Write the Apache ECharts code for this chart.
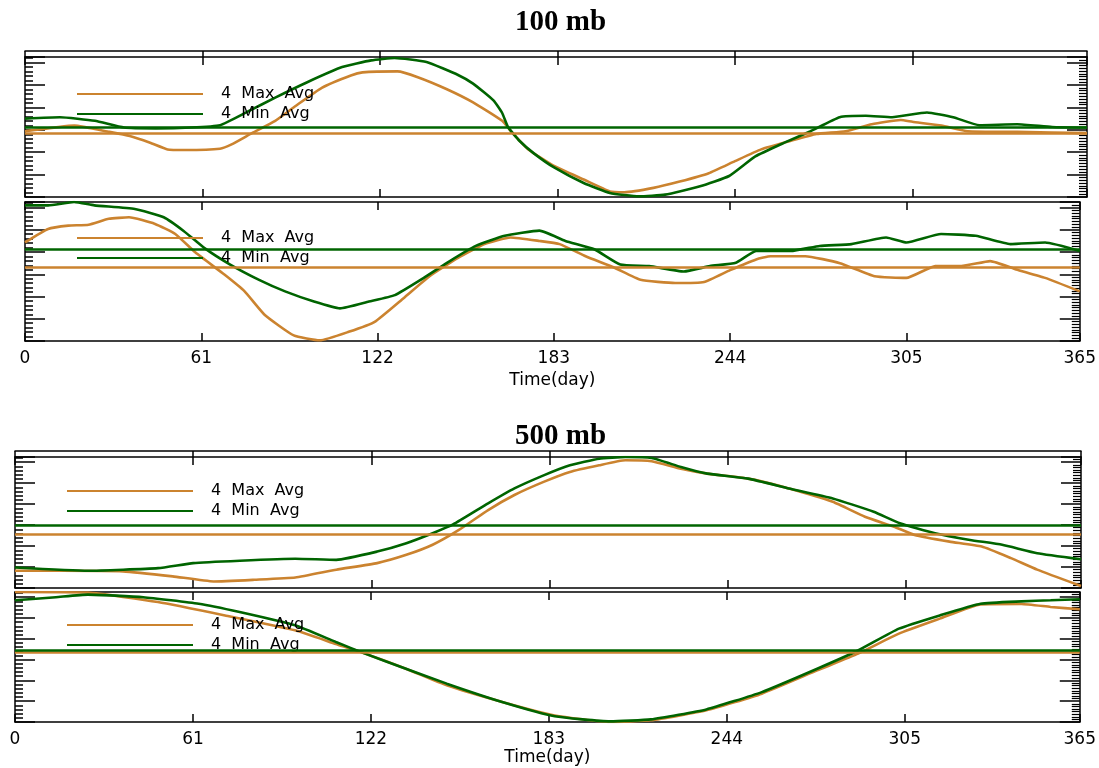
<!DOCTYPE html>
<html>
<head>
<meta charset="utf-8">
<script src="https://cdn.jsdelivr.net/npm/echarts@6/dist/echarts.min.js"></script>
<style>
  body { margin: 0; background: #fff; }
  #chart { width: 1099px; height: 768px; }
</style>
</head>
<body>
<div id="chart"></div>
<script>
// day ticks shared by every panel
const xTicks = [0, 61, 122, 183, 244, 305, 365];
const titles = ['100 mb', '500 mb'];
const seriesNames = ['4 Max Avg', '4 Min Avg'];

// 100 mb, upper panel
const p1MaxDays = [0,17,29,36,43,49,55,67,71,78,86,93,102,112,116,128,135,145,154,164,167,173,182,192,201,206,216,225,235,244,253,263,272,282,291,301,305,315,324,341,365];
const p1MaxVals = [47,51,46.5,43.6,38.8,34,33.6,34.5,37.6,45.6,54.4,65,78,86.8,89,89.7,85.6,77,67.6,54.4,47,34,22,12.5,4,3.4,6.5,11,17,25.6,34,40,45,47,52,55,53.7,51,47,46.5,45.6];
const p1MinDays = [0,12,24,34,45,57,67,76,86,97,109,119,127,138,149,154,161,164,166,170,175,182,192,201,211,220,232,242,251,261,270,280,289,298,310,319,328,341,353,365];
const p1MinVals = [56,57,54.4,49.6,49,49.6,51.3,60.4,71,82,92.8,97.6,99.3,96.4,87,81,69,60,50,40,31,20.9,10,2.9,0.5,1.7,7.7,15,29,38.8,47,57,58,57,60.4,57,51.3,52,50,49.6];

// 100 mb, lower panel
const p2MaxDays = [0,8,15,22,29,36,45,52,59,69,76,83,93,102,112,121,131,140,150,159,168,178,185,194,204,213,225,235,244,253,258,270,282,294,305,315,324,334,343,353,365];
const p2MaxVals = [70.9,80.6,83,83.7,87.9,89,84.2,77,63.6,47.8,35.7,18.7,4,0.5,6.6,13.8,30.8,46.6,60,69.7,74.5,72,69.7,61,52.7,44,41.7,42.5,51,58.7,61,61,56,46.6,45.4,53.9,53.9,57.5,51.5,45.4,35.7];
const p2MinDays = [0,8,17,24,38,48,55,62,71,81,90,100,109,119,128,138,147,156,166,178,187,197,206,216,228,237,246,253,265,275,286,298,305,317,329,341,353,365];
const p2MinVals = [97.6,97.6,100,97.6,95,89,79,67,55,44,35.7,28.4,23.5,28.4,33,45.4,57.5,68.4,75.7,79.4,72,66,55,53.9,50,53.9,56.3,64.8,64.8,68.4,69.7,74.5,70.9,77,75.7,69.7,70.9,64.8];

// 500 mb, upper panel
const p3MaxDays = [0,16,37,54,68,82,96,110,124,134,143,152,162,171,181,190,200,209,218,228,237,251,265,280,291,301,308,320,331,341,350,365];
const p3MaxVals = [13.2,13.2,12.7,8.9,5,6.3,8,14,19,25.3,33,44.3,59.5,71,81,88.6,93.7,97.5,96.7,91,87.3,83.5,76,65.8,54.4,46.8,40.5,35.4,31.6,22.8,14,1.5];
const p3MinDays = [0,25,49,61,77,96,110,124,134,143,150,162,171,181,190,200,209,218,228,237,251,265,280,294,303,315,327,338,350,365];
const p3MinVals = [15.7,13.2,15.2,19,20.8,22.3,21.5,27.8,34.2,41.8,48.5,64.6,76,86,93.7,98.7,100,99.2,92.4,87.3,83.5,76,68.4,58.2,49.4,41.8,36.7,33,26.6,22];

// 500 mb, lower panel
const p4MaxDays = [0,25,49,72,96,110,120,134,148,167,185,204,218,237,256,275,289,303,317,331,345,355,365];
const p4MaxVals = [100,99.5,92.3,82,70.5,60,52.6,41,28.2,15.4,5,0,1.3,9,21.8,39.7,52.6,68,79.5,90.5,90.8,88.5,86.7];
const p4MinDays = [0,14,25,44,63,77,96,110,120,134,148,167,185,204,218,237,256,275,289,303,317,331,345,355,365];
const p4MinVals = [93.6,96,98,96,91,84.6,74.4,61.5,52.6,41,29.5,15.4,4.4,0.5,2,9.7,23,41,55,71.8,82,91,92.8,93.6,94.4];

// flat average lines
const maxMeans = [45.6, 52.7, 41, 53.8];
const minMeans = [50.1, 66, 48, 54.9];

const pts = (d, v) => d.map((x, k) => [x, v[k]]);
const panelData = [
  [pts(p1MaxDays, p1MaxVals), pts(p1MinDays, p1MinVals)],
  [pts(p2MaxDays, p2MaxVals), pts(p2MinDays, p2MinVals)],
  [pts(p3MaxDays, p3MaxVals), pts(p3MinDays, p3MinVals)],
  [pts(p4MaxDays, p4MaxVals), pts(p4MinDays, p4MinVals)]
];

const ORANGE = '#CB832F';
const GREEN = '#006400';
const colors = [ORANGE, GREEN];
const FONT = 'DejaVu Sans';

const grids = [
  { left: 25, top: 57, right: 12, height: 140 },
  { left: 25, top: 202, right: 12, height: 139 },
  { left: 15, top: 457, right: 18, height: 131 },
  { left: 15, top: 592, right: 18, height: 130 }
];
const legendPos = [[77, 85], [77, 229], [67, 482], [67, 616]];

const axisLine = { show: true, onZero: false, lineStyle: { color: '#000', width: 1.5 } };
const tickStyle = { color: '#000', width: 1.5 };

const xAxes = [];
const yAxes = [];
grids.forEach((g, i) => {
  const labelled = i % 2 === 1;
  xAxes.push({
    type: 'value', gridIndex: i, min: 0, max: 365, position: 'bottom',
    axisLine,
    axisTick: { inside: true, length: 8, customValues: xTicks, lineStyle: tickStyle },
    axisLabel: labelled
      ? { show: true, customValues: xTicks, margin: 9, color: '#000', fontFamily: FONT, fontSize: 17 }
      : { show: false },
    splitLine: { show: false },
    name: labelled ? 'Time(day)' : '',
    nameLocation: 'middle',
    nameGap: i === 1 ? 31 : 26,
    nameTextStyle: { color: '#000', fontFamily: FONT, fontSize: 17 }
  });
  xAxes.push({
    type: 'value', gridIndex: i, min: 0, max: 365, position: 'top',
    axisLine,
    axisTick: { inside: true, length: 8, customValues: xTicks, lineStyle: tickStyle },
    axisLabel: { show: false },
    splitLine: { show: false }
  });
  yAxes.push({
    type: 'value', gridIndex: i, min: 0, max: 100, interval: 16, position: 'left',
    axisLine,
    axisTick: { inside: true, length: 20, lineStyle: tickStyle },
    minorTick: { show: true, splitNumber: 5, length: 8, lineStyle: tickStyle },
    axisLabel: { show: false },
    splitLine: { show: false }
  });
  yAxes.push({
    type: 'value', gridIndex: i, min: 0, max: 100, interval: 16, position: 'right',
    axisLine,
    axisTick: { inside: true, length: 20, lineStyle: tickStyle },
    minorTick: { show: true, splitNumber: 8, length: 8, lineStyle: { color: '#000', width: 1.2 } },
    axisLabel: { show: false },
    splitLine: { show: false }
  });
});
// outer frame line above each figure
[0, 2].forEach(i => {
  xAxes.push({
    type: 'value', gridIndex: i, min: 0, max: 365, position: 'top', offset: 6,
    axisLine,
    axisTick: { inside: true, length: 9, customValues: xTicks, lineStyle: tickStyle },
    axisLabel: { show: false },
    splitLine: { show: false }
  });
});

const series = [];
panelData.forEach((pair, i) => {
  pair.forEach((data, j) => {
    series.push({
      name: seriesNames[j],
      type: 'line',
      xAxisIndex: 2 * i,
      yAxisIndex: 2 * i,
      data,
      showSymbol: false,
      smooth: 0.15,
      color: colors[j],
      lineStyle: { width: 2.6, color: colors[j] },
      z: 2 + j,
      markLine: {
        silent: true,
        symbol: ['none', 'none'],
        label: { show: false },
        lineStyle: { type: 'solid', width: 2.6, color: colors[j] },
        data: [{ yAxis: j === 0 ? maxMeans[i] : minMeans[i] }]
      }
    });
  });
});

const chart = echarts.init(document.getElementById('chart'));
chart.setOption({
  animation: false,
  backgroundColor: '#fff',
  title: titles.map((t, k) => ({
    text: t,
    left: 515,
    top: k === 0 ? 8 : 422,
    padding: 0,
    textStyle: { fontFamily: 'Liberation Serif', fontWeight: 'bold', fontSize: 29, color: '#000' }
  })),
  legend: legendPos.map(p => ({
    data: seriesNames,
    orient: 'vertical',
    left: p[0],
    top: p[1],
    padding: 0,
    icon: 'rect',
    itemWidth: 126,
    itemHeight: 2,
    itemGap: 2,
    selectedMode: false,
    formatter: name => name.replace(/ /g, '  '),
    textStyle: { color: '#000', fontFamily: FONT, fontSize: 16, lineHeight: 18, padding: [0, 0, 0, 13] }
  })),
  grid: grids,
  xAxis: xAxes,
  yAxis: yAxes,
  series
});
</script>
</body>
</html>
